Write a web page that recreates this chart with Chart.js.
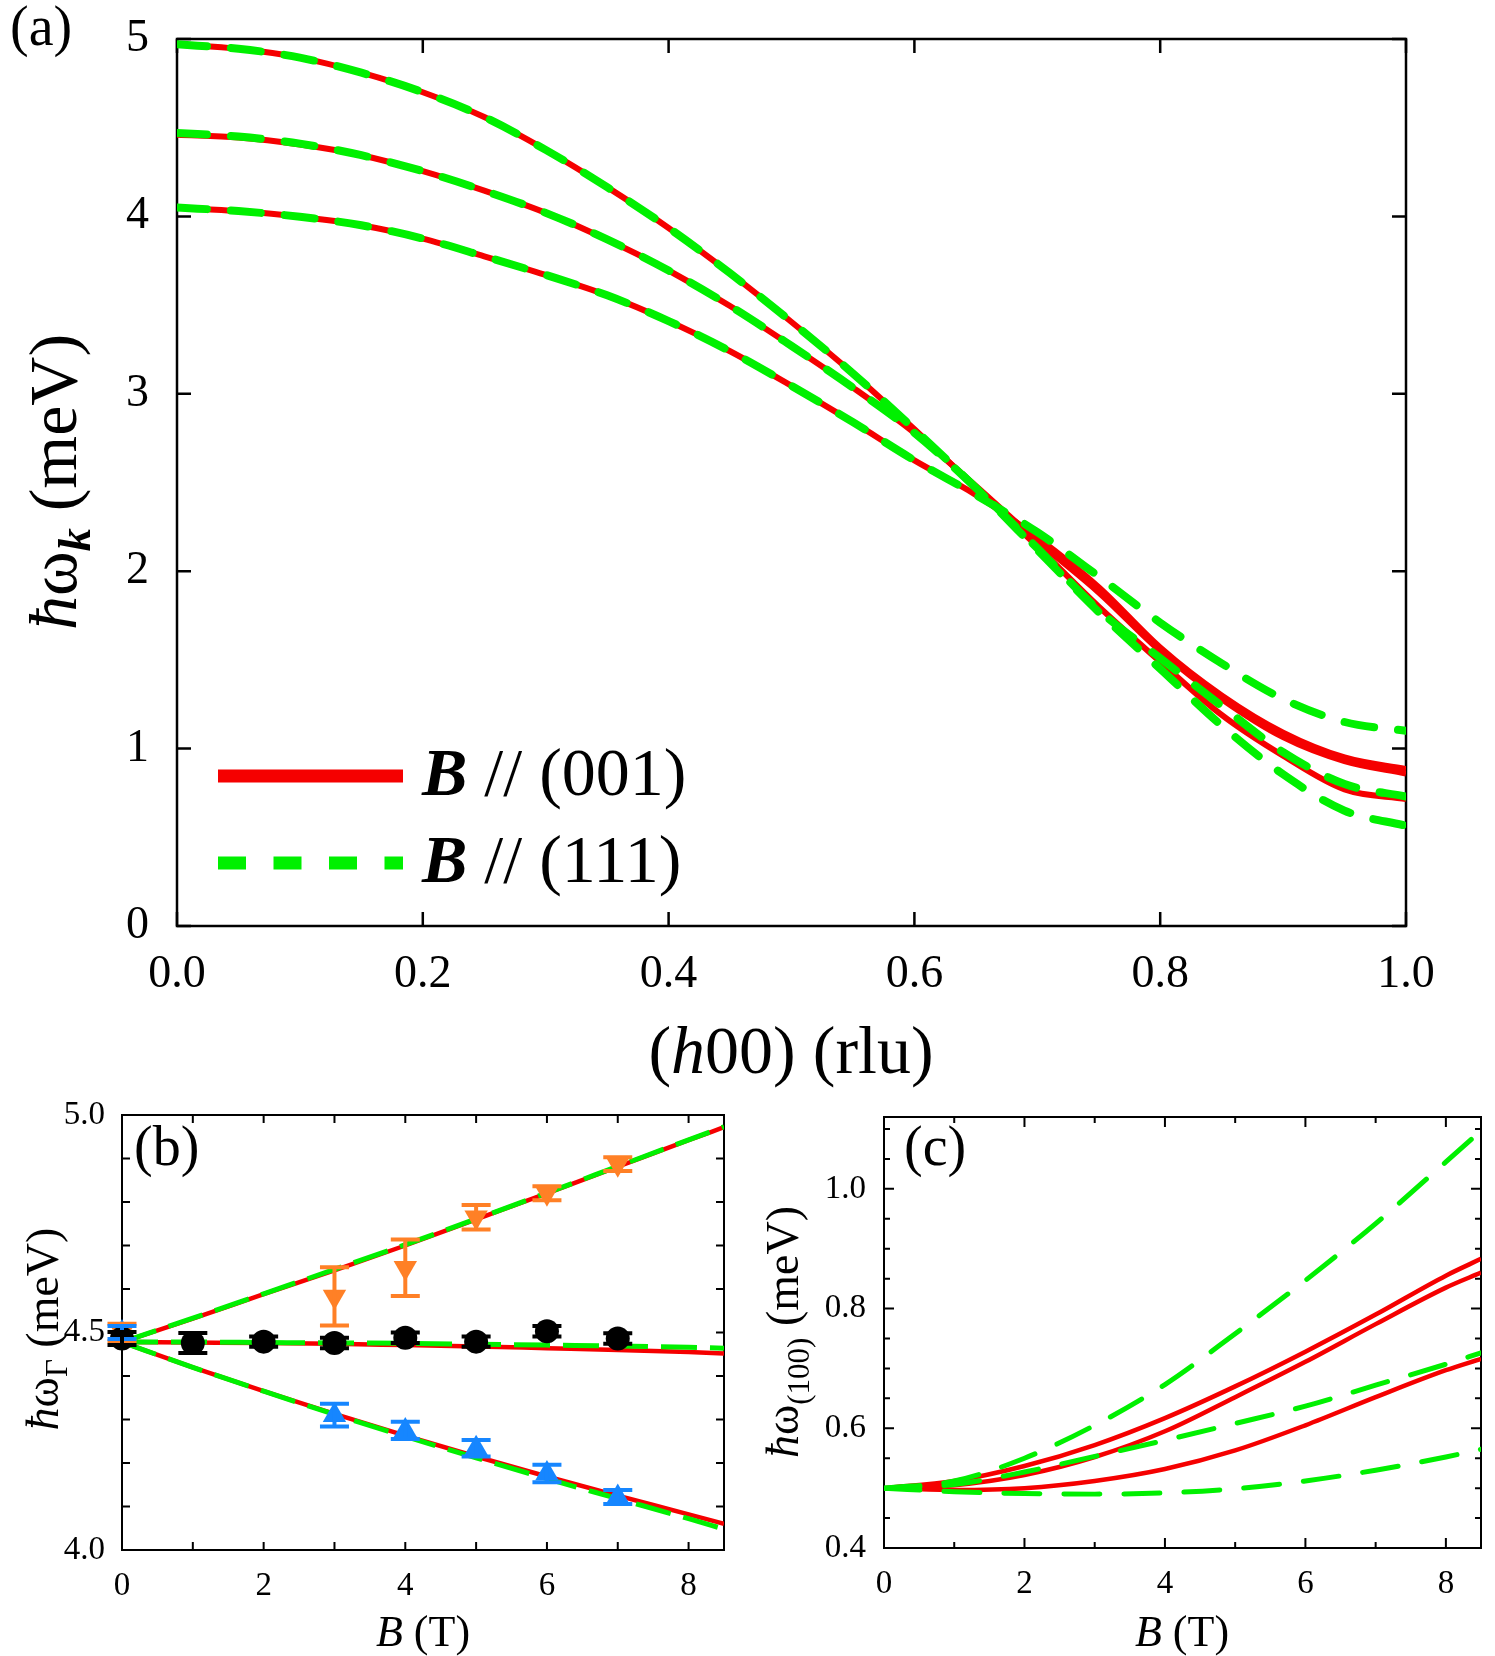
<!DOCTYPE html>
<html><head><meta charset="utf-8">
<script src="https://cdn.jsdelivr.net/npm/chart.js@4.4.0/dist/chart.umd.min.js"></script>
<style>
html,body{margin:0;padding:0;background:#fff;}
body{width:1495px;height:1656px;position:relative;overflow:hidden;}
canvas{position:absolute;}
</style></head>
<body>
<canvas id="ca" width="1495" height="1095" style="left:0;top:0;width:1495px;height:1095px"></canvas>
<canvas id="cb" width="750" height="566" style="left:0;top:1090px;width:750px;height:566px"></canvas>
<canvas id="cc" width="745" height="566" style="left:750px;top:1090px;width:745px;height:566px"></canvas>
<script>
// ---------- Panel (a): dispersion along (h00) at B = 8.5 T ----------
const H_RLU = [0, 0.05, 0.1, 0.15, 0.2, 0.25, 0.3, 0.35, 0.4, 0.45, 0.5, 0.55, 0.6, 0.65, 0.7, 0.75, 0.8, 0.85, 0.9, 0.95, 1.0];
const A_RED_1 = [4.97, 4.945, 4.895, 4.81, 4.70, 4.56, 4.375, 4.165, 3.935, 3.68, 3.405, 3.115, 2.80, 2.47, 2.14, 1.80, 1.49, 1.19, 0.96, 0.77, 0.715];
const A_RED_2 = [4.46, 4.445, 4.405, 4.345, 4.255, 4.145, 4.02, 3.87, 3.695, 3.495, 3.27, 3.035, 2.78, 2.48, 2.17, 1.88, 1.55, 1.28, 1.065, 0.93, 0.86];
const A_RED_3 = [4.05, 4.03, 3.998, 3.95, 3.875, 3.775, 3.67, 3.555, 3.41, 3.24, 3.045, 2.84, 2.625, 2.43, 2.19, 1.91, 1.57, 1.30, 1.09, 0.95, 0.885];
const A_GREEN_1 = [4.97, 4.945, 4.895, 4.81, 4.70, 4.56, 4.375, 4.165, 3.935, 3.68, 3.405, 3.115, 2.80, 2.47, 2.12, 1.77, 1.45, 1.13, 0.855, 0.65, 0.565];
const A_GREEN_2 = [4.47, 4.45, 4.41, 4.345, 4.255, 4.145, 4.02, 3.87, 3.695, 3.495, 3.27, 3.035, 2.78, 2.47, 2.13, 1.78, 1.51, 1.24, 0.98, 0.80, 0.73];
const A_GREEN_3 = [4.05, 4.03, 3.998, 3.95, 3.875, 3.775, 3.67, 3.555, 3.41, 3.24, 3.045, 2.84, 2.625, 2.43, 2.22, 1.97, 1.71, 1.48, 1.28, 1.15, 1.10];
const A_X_TICKS = [0, 0.2, 0.4, 0.6, 0.8, 1.0];
const A_Y_TICKS = [0, 1, 2, 3, 4, 5];
const LEGEND_LABELS = ['(001)', '(111)'];

// ---------- Panel (b): Gamma-point energies vs B ----------
const B_FIELD = [0, 1, 2, 3, 4, 5, 6, 7, 8, 8.5];
const B_RED_UP  = [4.478, 4.532, 4.588, 4.643, 4.700, 4.760, 4.820, 4.881, 4.942, 4.972];
const B_RED_MID = [4.478, 4.477, 4.476, 4.474, 4.471, 4.468, 4.464, 4.460, 4.455, 4.452];
const B_RED_LOW = [4.478, 4.420, 4.365, 4.313, 4.263, 4.215, 4.169, 4.125, 4.082, 4.060];
const B_GREEN_UP  = [4.478, 4.533, 4.589, 4.645, 4.702, 4.761, 4.821, 4.882, 4.943, 4.973];
const B_GREEN_MID = [4.478, 4.478, 4.477, 4.476, 4.475, 4.473, 4.471, 4.469, 4.466, 4.464];
const B_GREEN_LOW = [4.478, 4.420, 4.365, 4.312, 4.261, 4.212, 4.164, 4.118, 4.072, 4.048];
const ORANGE_B   = [0, 3, 4, 5, 6, 7];
const ORANGE_E   = [4.500, 4.583, 4.649, 4.765, 4.820, 4.887];
const ORANGE_ERR = [0.020, 0.067, 0.065, 0.028, 0.016, 0.016];
const BLACK_B   = [0, 1, 2, 3, 4, 5, 6, 7];
const BLACK_E   = [4.486, 4.476, 4.479, 4.476, 4.488, 4.479, 4.503, 4.486];
const BLACK_ERR = [0.015, 0.023, 0.012, 0.012, 0.012, 0.012, 0.012, 0.012];
const BLUE_B   = [0, 3, 4, 5, 6, 7];
const BLUE_E   = [4.500, 4.310, 4.275, 4.234, 4.176, 4.122];
const BLUE_ERR = [0.015, 0.026, 0.020, 0.019, 0.020, 0.016];

// ---------- Panel (c): energies at (100) vs B ----------
const C_RED_1 = [0.5, 0.512, 0.537, 0.572, 0.617, 0.670, 0.728, 0.790, 0.855, 0.883];
const C_RED_2 = [0.5, 0.505, 0.522, 0.552, 0.595, 0.652, 0.711, 0.774, 0.835, 0.860];
const C_RED_3 = [0.5, 0.497, 0.500, 0.512, 0.532, 0.563, 0.605, 0.652, 0.697, 0.716];
const C_GREEN_1 = [0.5, 0.512, 0.550, 0.605, 0.673, 0.758, 0.847, 0.942, 1.045, 1.097];
const C_GREEN_2 = [0.5, 0.506, 0.527, 0.553, 0.580, 0.608, 0.637, 0.672, 0.707, 0.726];
const C_GREEN_3 = [0.5, 0.494, 0.491, 0.490, 0.492, 0.499, 0.512, 0.530, 0.552, 0.565];

const RED = '#F50000', GREEN = '#00F000', ORANGE = '#FF8026', BLUE = '#1686FF', BLACK = '#000000';
const SERIF = '"Liberation Serif", "Times New Roman", serif';

const pts = (xs, ys) => xs.map((x, i) => ({x: x, y: ys[i]}));

function drawRuns(ctx, runs, x, y, rotate, align) {
  ctx.save();
  ctx.translate(x, y);
  if (rotate) ctx.rotate(-Math.PI / 2);
  let total = 0;
  runs.forEach(r => { ctx.font = r.f; r.w = ctx.measureText(r.t).width; total += r.w; });
  let cx = align === 'left' ? 0 : -total / 2;
  ctx.textBaseline = 'alphabetic';
  ctx.fillStyle = '#000';
  runs.forEach(r => { ctx.font = r.f; ctx.fillText(r.t, cx, r.dy || 0); cx += r.w; });
  ctx.restore();
}

function framePlugin(o) {
  return {
    id: 'frame',
    beforeDatasetsDraw(chart) {
      const ctx = chart.ctx, a = chart.chartArea, xs = chart.scales.x, ys = chart.scales.y;
      ctx.save();
      ctx.strokeStyle = '#000';
      ctx.lineWidth = o.tickW;
      ctx.beginPath();
      xs.ticks.forEach(t => {
        const p = xs.getPixelForValue(t.value);
        const L = o.xLen(t.value);
        ctx.moveTo(p, a.bottom); ctx.lineTo(p, a.bottom - L);
        ctx.moveTo(p, a.top); ctx.lineTo(p, a.top + L);
      });
      ys.ticks.forEach(t => {
        const p = ys.getPixelForValue(t.value);
        const L = o.yLen(t.value);
        ctx.moveTo(a.left, p); ctx.lineTo(a.left + L, p);
        ctx.moveTo(a.right, p); ctx.lineTo(a.right - L, p);
      });
      ctx.stroke();
      ctx.lineWidth = o.frameW;
      ctx.strokeRect(a.left, a.top, a.right - a.left, a.bottom - a.top);
      ctx.restore();
    },
    afterDraw(chart) { o.texts(chart.ctx, chart); }
  };
}

function lineDS(xs, ys, color, width, dash, cap, order) {
  return {
    data: pts(xs, ys), showLine: true, borderColor: color, borderWidth: width,
    borderDash: dash || [], borderCapStyle: cap || 'butt', pointRadius: 0,
    cubicInterpolationMode: 'monotone', fill: false, order: order
  };
}

function zeroPad(s) { s.paddingTop = 0; s.paddingBottom = 0; s.paddingLeft = 0; s.paddingRight = 0; }

function baseOptions(cfg) {
  return {
    responsive: false, animation: false, events: [],
    layout: {padding: cfg.padding},
    plugins: {legend: {display: false}, tooltip: {enabled: false}},
    scales: {
      x: {
        type: 'linear', min: cfg.xMin, max: cfg.xMax,
        grid: {display: false, drawTicks: false, drawOnChartArea: false},
        border: {display: false},
        afterFit: s => { s.height = cfg.xH; zeroPad(s); },
        ticks: {
          stepSize: cfg.xStep, includeBounds: false, padding: cfg.xPad, maxRotation: 0, autoSkip: false,
          color: '#000', font: {family: SERIF, size: cfg.fs}, callback: cfg.xCb
        }
      },
      y: {
        type: 'linear', min: cfg.yMin, max: cfg.yMax,
        grid: {display: false, drawTicks: false, drawOnChartArea: false},
        border: {display: false},
        afterFit: s => { s.width = cfg.yW; zeroPad(s); },
        ticks: {
          stepSize: cfg.yStep, includeBounds: false, padding: cfg.yPad, autoSkip: false,
          color: '#000', font: {family: SERIF, size: cfg.fs}, callback: cfg.yCb
        }
      }
    }
  };
}

// ---------- Chart (a) ----------
const optA = baseOptions({
  padding: {top: 39, right: 89, left: 0, bottom: 0},
  xMin: 0, xMax: 1, xStep: 0.2, xH: 169, xPad: 21,
  yMin: 0, yMax: 5, yStep: 1, yW: 177, yPad: 28, fs: 46,
  xCb: v => A_X_TICKS.some(t => Math.abs(t - v) < 1e-6) ? v.toFixed(1) : '',
  yCb: v => A_Y_TICKS.includes(Math.round(v)) ? String(Math.round(v)) : ''
});
new Chart(document.getElementById('ca'), {
  type: 'scatter',
  data: {datasets: [
    lineDS(H_RLU, A_GREEN_1, GREEN, 8, [30, 24], 'round', 1),
    lineDS(H_RLU, A_GREEN_2, GREEN, 8, [30, 24], 'round', 1),
    lineDS(H_RLU, A_GREEN_3, GREEN, 8, [30, 24], 'round', 1),
    lineDS(H_RLU, A_RED_1, RED, 6, [], 'butt', 2),
    lineDS(H_RLU, A_RED_2, RED, 6, [], 'butt', 2),
    lineDS(H_RLU, A_RED_3, RED, 6, [], 'butt', 2)
  ]},
  options: optA,
  plugins: [framePlugin({
    tickW: 2.5, frameW: 2.5, xLen: () => 14, yLen: () => 14,
    texts: (ctx) => {
      drawRuns(ctx, [{t: '(a)', f: '56px ' + SERIF}], 10, 45, false, 'left');
      ctx.save();
      ctx.lineWidth = 13;
      ctx.strokeStyle = RED;
      ctx.beginPath(); ctx.moveTo(218, 776); ctx.lineTo(403, 776); ctx.stroke();
      ctx.strokeStyle = GREEN;
      ctx.setLineDash([28, 27.5]);
      ctx.beginPath(); ctx.moveTo(218, 863); ctx.lineTo(403, 863); ctx.stroke();
      ctx.restore();
      drawRuns(ctx, [{t: 'B', f: 'bold italic 68px ' + SERIF}, {t: ' // ' + LEGEND_LABELS[0], f: '68px ' + SERIF}], 422, 795, false, 'left');
      drawRuns(ctx, [{t: 'B', f: 'bold italic 68px ' + SERIF}, {t: ' // ' + LEGEND_LABELS[1], f: '68px ' + SERIF}], 422, 882, false, 'left');
      drawRuns(ctx, [
        {t: '(', f: '68px ' + SERIF}, {t: 'h', f: 'italic 68px ' + SERIF},
        {t: '00) (rlu)', f: '68px ' + SERIF}
      ], 791, 1073, false, 'center');
      drawRuns(ctx, [
        {t: 'ħ', f: 'italic 68px ' + SERIF}, {t: 'ω', f: '68px ' + SERIF},
        {t: 'k', f: 'bold italic 46px ' + SERIF, dy: 14},
        {t: ' (meV)', f: '68px ' + SERIF}
      ], 76, 482, true, 'center');
    }
  })]
});

// ---------- Chart (b) ----------
const optB = baseOptions({
  padding: {top: 25, right: 26, left: 0, bottom: 0},
  xMin: 0, xMax: 8.5, xStep: 1, xH: 106, xPad: 17,
  yMin: 4.0, yMax: 5.0, yStep: 0.1, yW: 122, yPad: 17, fs: 33,
  xCb: v => (Math.round(v) % 2 === 0 ? String(Math.round(v)) : ''),
  yCb: v => (Math.round(v * 10) % 5 === 0 ? v.toFixed(1) : '')
});
const errGroups = [
  {xs: ORANGE_B, ys: ORANGE_E, es: ORANGE_ERR, c: ORANGE},
  {xs: BLUE_B, ys: BLUE_E, es: BLUE_ERR, c: BLUE},
  {xs: BLACK_B, ys: BLACK_E, es: BLACK_ERR, c: BLACK}
];
new Chart(document.getElementById('cb'), {
  type: 'scatter',
  data: {datasets: [
    {data: pts(BLACK_B, BLACK_E), pointStyle: 'circle', pointRadius: 12, backgroundColor: BLACK, borderWidth: 0, order: 0, clip: false},
    {data: pts(ORANGE_B, ORANGE_E), pointStyle: 'triangle', rotation: 180, pointRadius: 13.5, backgroundColor: ORANGE, borderWidth: 0, order: 1, clip: false},
    {data: pts(BLUE_B, BLUE_E), pointStyle: 'triangle', rotation: 0, pointRadius: 13.5, backgroundColor: BLUE, borderWidth: 0, order: 1, clip: false},
    lineDS(B_FIELD, B_GREEN_UP, GREEN, 5, [36, 13], 'butt', 2),
    lineDS(B_FIELD, B_GREEN_MID, GREEN, 5, [36, 13], 'butt', 2),
    lineDS(B_FIELD, B_GREEN_LOW, GREEN, 5, [36, 13], 'butt', 2),
    lineDS(B_FIELD, B_RED_UP, RED, 4.5, [], 'butt', 3),
    lineDS(B_FIELD, B_RED_MID, RED, 4.5, [], 'butt', 3),
    lineDS(B_FIELD, B_RED_LOW, RED, 4.5, [], 'butt', 3)
  ]},
  options: optB,
  plugins: [{
    id: 'errbars',
    afterDatasetsDraw(chart) {
      const ctx = chart.ctx, xs = chart.scales.x, ys = chart.scales.y;
      ctx.save();
      ctx.lineWidth = 4;
      errGroups.forEach(g => g.xs.forEach((b, i) => {
        const px = xs.getPixelForValue(b);
        const yt = ys.getPixelForValue(g.ys[i] + g.es[i]);
        const yb = ys.getPixelForValue(g.ys[i] - g.es[i]);
        ctx.strokeStyle = g.c;
        ctx.beginPath();
        ctx.moveTo(px, yt); ctx.lineTo(px, yb);
        ctx.moveTo(px - 14.5, yt); ctx.lineTo(px + 14.5, yt);
        ctx.moveTo(px - 14.5, yb); ctx.lineTo(px + 14.5, yb);
        ctx.stroke();
      }));
      ctx.restore();
    }
  }, framePlugin({
    tickW: 2, frameW: 2, xLen: () => 8, yLen: () => 8,
    texts: (ctx) => {
      drawRuns(ctx, [{t: '(b)', f: '56px ' + SERIF}], 134, 75, false, 'left');
      drawRuns(ctx, [{t: 'B', f: 'italic 44px ' + SERIF}, {t: ' (T)', f: '44px ' + SERIF}], 423, 556, false, 'center');
      drawRuns(ctx, [
        {t: 'ħ', f: 'italic 46px ' + SERIF}, {t: 'ω', f: '46px ' + SERIF},
        {t: 'Γ', f: '31px ' + SERIF, dy: 9},
        {t: ' (meV)', f: '46px ' + SERIF}
      ], 58, 239, true, 'center');
    }
  })]
});

// ---------- Chart (c) ----------
const optC = baseOptions({
  padding: {top: 27, right: 14, left: 0, bottom: 0},
  xMin: 0, xMax: 8.5, xStep: 1, xH: 108, xPad: 17,
  yMin: 0.4, yMax: 1.12, yStep: 0.05, yW: 134, yPad: 18, fs: 33,
  xCb: v => (Math.round(v) % 2 === 0 ? String(Math.round(v)) : ''),
  yCb: v => (Math.round(v * 100) % 20 === 0 ? v.toFixed(1) : '')
});
new Chart(document.getElementById('cc'), {
  type: 'scatter',
  data: {datasets: [
    lineDS(B_FIELD, C_GREEN_1, GREEN, 5, [36, 24], 'round', 1),
    lineDS(B_FIELD, C_GREEN_2, GREEN, 5, [36, 24], 'round', 1),
    lineDS(B_FIELD, C_GREEN_3, GREEN, 5, [36, 24], 'round', 1),
    lineDS(B_FIELD, C_RED_1, RED, 4.5, [], 'butt', 2),
    lineDS(B_FIELD, C_RED_2, RED, 4.5, [], 'butt', 2),
    lineDS(B_FIELD, C_RED_3, RED, 4.5, [], 'butt', 2)
  ]},
  options: optC,
  plugins: [framePlugin({
    tickW: 2, frameW: 2,
    xLen: v => (Math.round(v) % 2 === 0 ? 10 : 6),
    yLen: v => (Math.round(v * 100) % 20 === 0 ? 10 : 6),
    texts: (ctx) => {
      drawRuns(ctx, [{t: '(c)', f: '56px ' + SERIF}], 154, 75, false, 'left');
      drawRuns(ctx, [{t: 'B', f: 'italic 44px ' + SERIF}, {t: ' (T)', f: '44px ' + SERIF}], 432, 556, false, 'center');
      drawRuns(ctx, [
        {t: 'ħ', f: 'italic 46px ' + SERIF}, {t: 'ω', f: '46px ' + SERIF},
        {t: '(100)', f: '31px ' + SERIF, dy: 11},
        {t: ' (meV)', f: '46px ' + SERIF}
      ], 48, 242, true, 'center');
    }
  })]
});
</script>
</body></html>
